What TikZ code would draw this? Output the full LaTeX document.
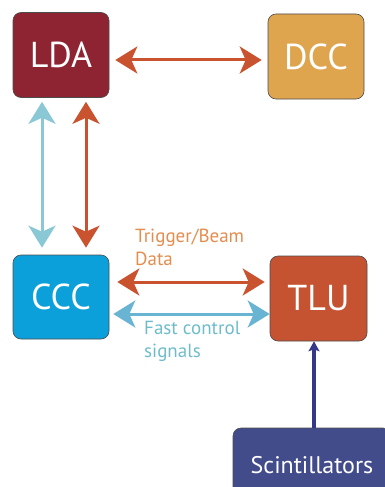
\documentclass[tikz,border=0pt]{standalone}
\usepackage{fontspec}
\setmainfont{PT Sans}
\usetikzlibrary{arrows.meta}
\definecolor{ldac}{HTML}{8E2331}
\definecolor{dccc}{HTML}{DFA54E}
\definecolor{cccc}{HTML}{0CA0DA}
\definecolor{tluc}{HTML}{C55331}
\definecolor{scic}{HTML}{434C8B}
\definecolor{orarrow}{HTML}{C9532F}
\definecolor{tlarrow}{HTML}{8BC8D6}
\definecolor{fcarrow}{HTML}{6AB4D3}
\definecolor{trlabel}{HTML}{E38D4E}
\definecolor{fclabel}{HTML}{6EBCCA}
\definecolor{scarrow}{HTML}{353889}
\tikzset{
  box/.style={draw=black!70, line width=0.6pt, rounded corners=8pt, text=white,
    minimum width=96pt, minimum height=85pt, inner sep=0pt, font=\fontsize{36}{40}\selectfont},
  bigtip/.style={{Stealth[length=22pt,width=27pt,inset=6pt]}-{Stealth[length=22pt,width=27pt,inset=6pt]}},
  oarrow/.style={draw=orarrow, fill=orarrow, line width=3pt, bigtip},
  tarrow/.style={draw=tlarrow, fill=tlarrow, line width=3pt, bigtip},
  farrow/.style={draw=fcarrow, fill=fcarrow, line width=3pt, bigtip},
  lbl/.style={align=left, anchor=north west, inner sep=0pt, font=\fontsize{19}{23}\selectfont}
}
\begin{document}
\begin{tikzpicture}[x=1pt,y=1pt]
\useasboundingbox (0,0) rectangle (385,-487);
\clip (0,0) rectangle (385,-487);
\node[box, fill=ldac] (LDA) at (61,-55) {LDA};
\node[box, fill=dccc] (DCC) at (316,-56.5) {DCC};
\node[box, fill=cccc, minimum height=84pt] (CCC) at (61,-297) {CCC};
\node[box, fill=tluc, minimum width=97pt] (TLU) at (318.5,-298.5) {TLU};
\node[box, fill=scic, minimum width=158pt, minimum height=72pt] (SCI) at (312,-464) {};
\node[text=white, font=\fontsize{24}{26}\selectfont] (scitext) at (312,-465) {Scintillators};
\draw[oarrow] ([shift={(6pt,-5pt)}]LDA.east) -- ([shift={(-6pt,-3.5pt)}]DCC.west);
\draw[tarrow] ([shift={(-19pt,-4pt)}]LDA.south) -- ([shift={(-19pt,7pt)}]CCC.north);
\draw[oarrow] ([shift={(25pt,-4pt)}]LDA.south) -- ([shift={(25pt,7pt)}]CCC.north);
\draw[oarrow] ([shift={(8pt,15pt)}]CCC.east) -- ([shift={(-5pt,16.5pt)}]TLU.west);
\draw[farrow] ([shift={(4pt,-17pt)}]CCC.east) -- ([shift={(0pt,-15.5pt)}]TLU.west);
\draw[draw=scarrow, line width=3.5pt, -{Stealth[length=10pt,width=11pt,inset=2pt]}]
  ([xshift=2pt]SCI.north) -- ([xshift=-4.5pt]TLU.south);
\node[lbl, text=trlabel] (trig) at (135,-229) {Trigger/Beam\\Data};
\node[lbl, text=fclabel] (fast) at (144,-321) {Fast control\\signals};
\end{tikzpicture}
\end{document}
